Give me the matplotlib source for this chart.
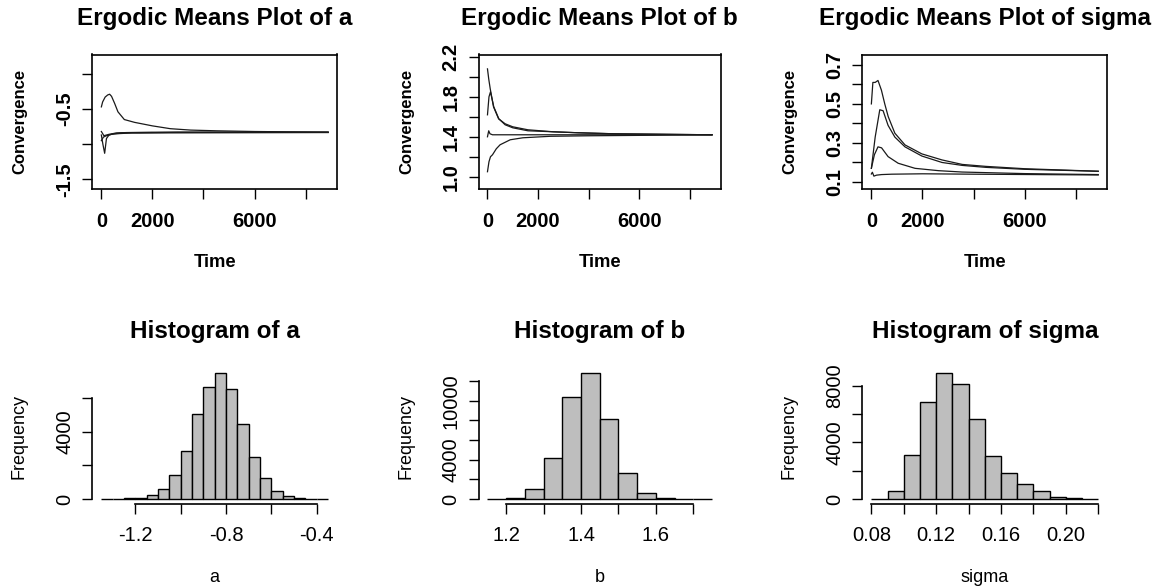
import numpy as np
import matplotlib
matplotlib.use("Agg")
import matplotlib.pyplot as plt

plt.rcParams['font.family'] = ['Liberation Sans', 'DejaVu Sans']

# ---- ergodic means (running means of 4 chains) ----
a_t = [
    [1, 50, 150, 250, 325, 400, 520, 650, 900, 1300, 2000, 2700, 3500, 4500, 6000, 8880],
    [1, 60, 130, 200, 300, 500, 800, 1500, 3000, 8880],
    [1, 80, 200, 400, 700, 1200, 2500, 8880],
    [1, 100, 300, 600, 1000, 2000, 8880],
]
a_v = [
    [-0.47, -0.40, -0.33, -0.30, -0.29, -0.32, -0.42, -0.54, -0.65, -0.69, -0.74, -0.78, -0.80, -0.81, -0.82, -0.83],
    [-0.87, -1.00, -1.13, -0.92, -0.87, -0.85, -0.84, -0.84, -0.83, -0.83],
    [-0.95, -0.90, -0.88, -0.86, -0.85, -0.84, -0.84, -0.835],
    [-0.82, -0.88, -0.86, -0.84, -0.835, -0.83, -0.83],
]
b_t = [
    [1, 50, 110, 240, 440, 700, 1000, 1600, 2600, 3600, 5000, 8880],
    [1, 60, 120, 250, 450, 700, 1000, 1600, 2600, 3600, 5000, 8880],
    [1, 50, 100, 200, 500, 1000, 8880],
    [1, 60, 120, 200, 350, 500, 900, 1400, 2500, 4000, 8880],
]
b_v = [
    [2.08, 1.98, 1.88, 1.70, 1.58, 1.53, 1.50, 1.47, 1.45, 1.44, 1.43, 1.42],
    [1.62, 1.80, 1.85, 1.70, 1.58, 1.52, 1.49, 1.46, 1.45, 1.44, 1.43, 1.42],
    [1.40, 1.46, 1.43, 1.42, 1.42, 1.42, 1.42],
    [1.05, 1.15, 1.20, 1.22, 1.28, 1.32, 1.37, 1.39, 1.405, 1.41, 1.42],
]
s_t = [
    [1, 60, 150, 260, 395, 525, 660, 920, 1316, 1976, 2766, 3557, 4480, 6000, 8880],
    [1, 150, 330, 460, 655, 920, 1316, 1976, 2766, 3557, 4480, 6000, 8880],
    [1, 120, 260, 400, 655, 1050, 1710, 2630, 3557, 6000, 8880],
    [1, 40, 100, 200, 400, 800, 2000, 4000, 8880],
]
s_v = [
    [0.50, 0.61, 0.61, 0.62, 0.57, 0.50, 0.435, 0.35, 0.29, 0.244, 0.213, 0.19, 0.18, 0.168, 0.155],
    [0.17, 0.33, 0.47, 0.465, 0.39, 0.33, 0.28, 0.233, 0.20, 0.185, 0.175, 0.165, 0.155],
    [0.17, 0.24, 0.28, 0.275, 0.23, 0.196, 0.17, 0.158, 0.151, 0.143, 0.138],
    [0.141, 0.15, 0.13, 0.135, 0.138, 0.14, 0.142, 0.14, 0.136],
]

# ---- histogram counts ----
a_edges = [-1.35, -1.30, -1.25, -1.20, -1.15, -1.10, -1.05, -1.00, -0.95, -0.90, -0.85,
           -0.80, -0.75, -0.70, -0.65, -0.60, -0.55, -0.50, -0.45, -0.40, -0.35]
a_counts = [5, 10, 60, 80, 260, 580, 1400, 2850, 5050, 6700, 7500,
            6550, 4460, 2530, 1270, 460, 160, 60, 20, 10]
b_edges = [1.15, 1.20, 1.25, 1.30, 1.35, 1.40, 1.45, 1.50, 1.55, 1.60, 1.65, 1.70, 1.75]
b_counts = [20, 100, 990, 4140, 10340, 12800, 8140, 2680, 580, 100, 30, 10]
s_edges = [0.08, 0.09, 0.10, 0.11, 0.12, 0.13, 0.14, 0.15, 0.16, 0.17, 0.18, 0.19, 0.20, 0.21, 0.22]
s_counts = [20, 590, 3130, 6850, 8870, 8140, 5650, 3060, 1830, 1060, 590, 165, 70, 25]

# ---- axis ticks and labels ----
time_ticks = [0, 2000, 4000, 6000, 8000]
time_labels = ['0', '2000', '', '6000', '']
trace_yticks = [[-1.5, -1.0, -0.5, 0.0], [1.0, 1.2, 1.4, 1.6, 1.8, 2.0, 2.2],
                [0.1, 0.2, 0.3, 0.4, 0.5, 0.6, 0.7]]
trace_ylabels = [['-1.5', '', '-0.5', ''], ['1.0', '', '1.4', '', '1.8', '', '2.2'],
                 ['0.1', '', '0.3', '', '0.5', '', '0.7']]
trace_ylims = [(-1.642, 0.275), (0.874, 2.224), (0.0626, 0.753)]
hist_xticks = [[-1.2, -1.0, -0.8, -0.6, -0.4], [1.2, 1.3, 1.4, 1.5, 1.6, 1.7],
               [0.08, 0.10, 0.12, 0.14, 0.16, 0.18, 0.20, 0.22]]
hist_xlabels = [['-1.2', '', '-0.8', '', '-0.4'], ['1.2', '', '1.4', '', '1.6', ''],
                ['0.08', '', '0.12', '', '0.16', '', '0.20', '']]
hist_yticks = [[0, 2000, 4000, 6000], [0, 2000, 4000, 6000, 8000, 10000, 12000],
               [0, 2000, 4000, 6000, 8000]]
hist_ylabels = [['0', '', '4000', ''], ['0', '', '4000', '', '', '10000', ''],
                ['0', '', '4000', '', '8000']]
names = ['a', 'b', 'sigma']

W, H = 1159, 588
fig = plt.figure(figsize=(W / 100, H / 100), dpi=100)


def add_px_axes(left, top, right, bottom):
    return fig.add_axes([left / W, 1 - bottom / H, (right - left) / W, (bottom - top) / H])


def px_text(x, y, s, **kw):
    fig.text(x / W, 1 - y / H, s, **kw)


cols = [(92.3, 337.2), (478.5, 721.0), (862.3, 1107.3)]
top_row = (54.5, 189.3)
bot_row = (368.2, 504.0)

traces_t = [a_t, b_t, s_t]
traces_v = [a_v, b_v, s_v]
hists = [(a_edges, a_counts), (b_edges, b_counts), (s_edges, s_counts)]

for i, (l, r) in enumerate(cols):
    xc = (l + r) / 2

    # ergodic means plot
    ax = add_px_axes(l, top_row[0], r, top_row[1])
    for t, v in zip(traces_t[i], traces_v[i]):
        ax.plot(t, v, color='#1a1a1a', lw=0.9)
    ax.set_xlim(-354, 9235)
    ax.set_ylim(*trace_ylims[i])
    ax.set_xticks(time_ticks)
    ax.set_xticklabels(time_labels, fontsize=14.5, fontweight='bold')
    ax.set_yticks(trace_yticks[i])
    ax.set_yticklabels(trace_ylabels[i], fontsize=14.5, fontweight='bold',
                       rotation=90, va='center')
    ax.tick_params(axis='x', direction='out', length=7, width=1, pad=9)
    ax.tick_params(axis='y', direction='out', length=7, width=1, pad=6)
    for sp in ax.spines.values():
        sp.set_linewidth(1.2)
    px_text(xc, 25, 'Ergodic Means Plot of ' + names[i], ha='center', va='baseline',
            fontsize=17.5, fontweight='bold')
    px_text(xc, 266.7, 'Time', ha='center', va='baseline', fontsize=13.3, fontweight='bold')
    px_text(l - 72, (top_row[0] + top_row[1]) / 2, 'Convergence', ha='center', va='center',
            rotation=90, fontsize=12, fontweight='bold')

    # histogram
    edges, counts = hists[i]
    ax2 = add_px_axes(l, bot_row[0], r, bot_row[1])
    ax2.bar(edges[:-1], counts, width=np.diff(edges), align='edge',
            color='#BEBEBE', edgecolor='black', linewidth=1.0)
    span = edges[-1] - edges[0]
    ax2.set_xlim(edges[0] - 0.04 * span, edges[-1] + 0.04 * span)
    ax2.set_ylim(-0.04 * max(counts), 1.04 * max(counts))
    ax2.set_xticks(hist_xticks[i])
    ax2.set_xticklabels(hist_xlabels[i], fontsize=14.5)
    ax2.set_yticks(hist_yticks[i])
    ax2.set_yticklabels(hist_ylabels[i], fontsize=14.5, rotation=90, va='center')
    ax2.tick_params(axis='x', direction='out', length=7, width=1, pad=9)
    ax2.tick_params(axis='y', direction='out', length=7, width=1, pad=6)
    ax2.spines['top'].set_visible(False)
    ax2.spines['right'].set_visible(False)
    ax2.spines['bottom'].set_bounds(hist_xticks[i][0], hist_xticks[i][-1])
    ax2.spines['left'].set_bounds(hist_yticks[i][0], hist_yticks[i][-1])
    for sp in ('bottom', 'left'):
        ax2.spines[sp].set_linewidth(1.2)
    px_text(xc, 337.7, 'Histogram of ' + names[i], ha='center', va='baseline',
            fontsize=17.5, fontweight='bold')
    px_text(xc, 581.7, names[i], ha='center', va='baseline', fontsize=13)
    px_text(l - 73, (bot_row[0] + bot_row[1]) / 2, 'Frequency', ha='center', va='center',
            rotation=90, fontsize=13)

fig.savefig('out.png', dpi=100)
